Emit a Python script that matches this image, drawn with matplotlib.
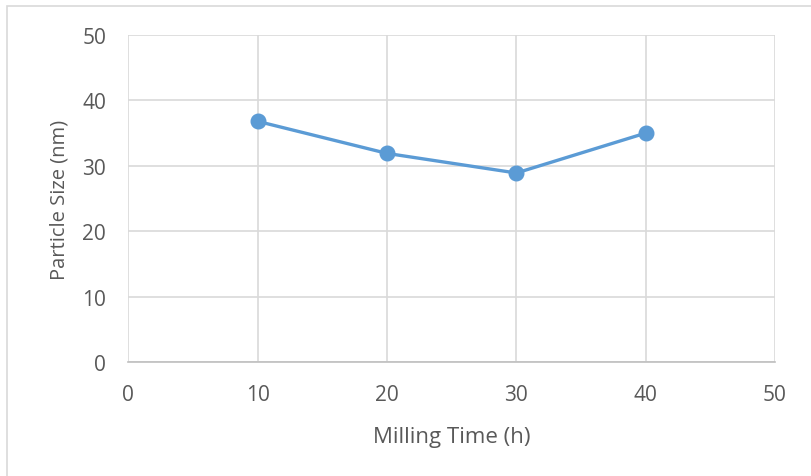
import matplotlib
matplotlib.use('Agg')
import matplotlib.pyplot as plt
from matplotlib.patches import Rectangle

milling_time = [10, 20, 30, 40]
particle_size = [36.8, 31.9, 28.9, 35.0]
x_ticks = [0, 10, 20, 30, 40, 50]
y_ticks = [0, 10, 20, 30, 40, 50]

text_color = '#595959'
grid_color = '#d9d9d9'
line_color = '#5b9bd5'

fig = plt.figure(figsize=(8.11, 4.77), dpi=100)
ax = fig.add_axes([0.1582, 0.239, 0.7974, 0.6855])

# chart area outline, cut off at right and bottom like the reference
fig.patches.append(Rectangle((7 / 811, -0.1), 2.0, 1 - 7 / 477 + 0.1,
                             transform=fig.transFigure, fill=False,
                             edgecolor='#d9d9d9', linewidth=1.2))

ax.plot(milling_time, particle_size, color=line_color, linewidth=2.4,
        marker='o', markersize=10.5, zorder=3)

ax.set_xlim(0, 50)
ax.set_ylim(0, 50)
ax.set_xticks(x_ticks)
ax.set_yticks(y_ticks)
ax.grid(True, color=grid_color, linewidth=1.2)
ax.set_axisbelow(True)

for s in ['top', 'left', 'right']:
    ax.spines[s].set_visible(False)
ax.spines['bottom'].set_color('#bfbfbf')
ax.spines['bottom'].set_linewidth(1.2)

ax.tick_params(length=0)
ax.tick_params(axis='x', pad=16)
ax.tick_params(axis='y', pad=16)
for lab in ax.get_xticklabels():
    lab.set_family(['Open Sans', 'DejaVu Sans'])
    lab.set_fontsize(15)
    lab.set_color(text_color)
for lab in ax.get_yticklabels():
    lab.set_family(['Open Sans', 'DejaVu Sans'])
    lab.set_fontsize(15)
    lab.set_color(text_color)

ax.set_xlabel('Milling Time (h)', family=['Open Sans', 'DejaVu Sans'], fontsize=16,
              color=text_color, labelpad=15)
ax.set_ylabel('Particle Size (nm)', family=['Open Sans', 'DejaVu Sans'], fontsize=14.5,
              color=text_color, labelpad=9)

fig.savefig('out.png', dpi=100)
